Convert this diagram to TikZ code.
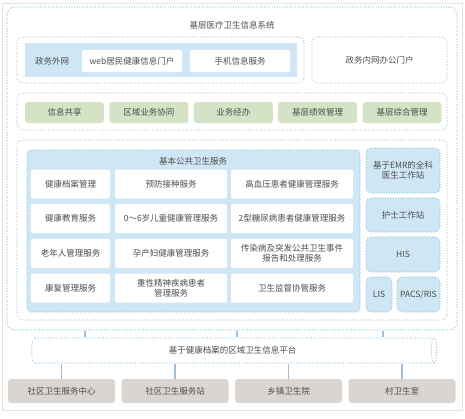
\documentclass[tikz,border=0pt]{standalone}
\usepackage{fontspec}
\setmainfont{Noto Sans CJK SC}
\usetikzlibrary{shapes.geometric}
\definecolor{txt}{HTML}{4D4D4D}
\definecolor{outerdot}{HTML}{74C4CB}
\definecolor{grpdot}{HTML}{A9BFCE}
\definecolor{paneblue}{HTML}{CFE6F5}
\definecolor{panedot}{HTML}{8DC0E3}
\definecolor{bizgreen}{HTML}{D4E3C5}
\definecolor{sitegray}{HTML}{DBD5D1}
\definecolor{linkblue}{HTML}{A3BCD6}
\definecolor{framegray}{HTML}{E3E3E3}

\begin{document}
\begin{tikzpicture}[x=1pt,y=-1pt,
    font=\fontsize{8.5}{10}\selectfont, text=txt,
    dotline/.style={dash pattern=on 0pt off 2.6pt,line cap=round,line width=1.2pt},
    outerbox/.style={draw=outerdot,dotline,rounded corners=8pt,inner sep=0pt},
    group/.style={draw=grpdot,dotline,rounded corners=5pt,inner sep=0pt},
    panel/.style={fill=paneblue,draw=panedot,dotline,rounded corners=4pt,inner sep=0pt},
    whitebox/.style={fill=white,rounded corners=2pt,inner sep=1pt,align=center},
    cell/.style={whitebox,minimum height=29pt},
    sysbox/.style={fill=paneblue,draw=panedot,dotline,rounded corners=5pt,inner sep=0pt,align=center},
    greenbox/.style={fill=bizgreen,rounded corners=3pt,minimum width=79pt,minimum height=21pt,inner sep=0pt},
    sitebox/.style={fill=sitegray,rounded corners=3pt,minimum width=107pt,minimum height=24pt,inner sep=0pt},
    link/.style={draw=linkblue,line width=1.6pt}]
  \useasboundingbox (0,0) rectangle (465,418);
  \draw[framegray] (2,3) rectangle (462,410);

  % system frame
  \node[outerbox,minimum width=450pt,minimum height=323pt] (outer) at (232,168.5) {};
  \node (title) at (232,25) {基层医疗卫生信息系统};

  % extranet / intranet
  \node[group,minimum width=287pt,minimum height=46pt] (extgroup) at (160.5,60) {};
  \node[fill=paneblue,minimum width=272pt,minimum height=34pt,inner sep=0pt] (extfill) at (161,60) {};
  \node (extnet) at (52,61) {政务外网};
  \node[whitebox,minimum width=100pt,minimum height=22pt] (web) at (132,61) {web居民健康信息门户};
  \node[whitebox,minimum width=100pt,minimum height=22pt] (mobile) at (240,61) {手机信息服务};
  \node[group,minimum width=135pt,minimum height=46pt] (intranet) at (379.5,60) {政务内网办公门户};

  % business row
  \node[group,minimum width=430pt,minimum height=37pt] (bizgroup) at (232,111.5) {};
  \foreach \txt [count=\i] in {信息共享,区域业务协同,业务经办,基层绩效管理,基层综合管理}
    \node[greenbox] (biz\i) at ({64.5+(\i-1)*84.4},112.5) {\txt};

  % public health services
  \node[group,minimum width=430pt,minimum height=180pt] (phsgroup) at (232,230) {};
  \node[panel,minimum width=333pt,minimum height=162pt] (phspanel) at (193.5,231) {};
  \node (phstitle) at (193,161) {基本公共卫生服务};
  \foreach \r/\a/\b/\c in {%
      1/健康档案管理/预防接种服务/高血压患者健康管理服务,
      2/健康教育服务/0～6岁儿童健康管理服务/2型糖尿病患者健康管理服务,
      3/老年人管理服务/孕产妇健康管理服务/{传染病及突发公共卫生事件\\报告和处理服务},
      4/康复管理服务/{重性精神疾病患者\\管理服务}/卫生监督协管服务}{
    \pgfmathsetmacro{\yy}{184+(\r-1)*34.7}
    \node[cell,minimum width=79pt] (cell\r a) at (70.5,\yy) {\a};
    \node[cell,minimum width=112pt] (cell\r b) at (171,\yy) {\b};
    \node[cell,minimum width=122pt] (cell\r c) at (292,\yy) {\c};
  }

  % clinical systems
  \node[sysbox,minimum width=74pt,minimum height=45pt] (emr) at (403,170.5) {基于EMR的全科\\医生工作站};
  \node[sysbox,minimum width=74pt,minimum height=34pt] (nurse) at (403,215) {护士工作站};
  \node[sysbox,minimum width=74pt,minimum height=35pt] (his) at (403,254.5) {HIS};
  \node[sysbox,minimum width=26pt,minimum height=35pt] (lis) at (379,294.5) {LIS};
  \node[sysbox,minimum width=43pt,minimum height=35pt] (pacs) at (418.5,294.5) {PACS/RIS};

  % platform
  \node[cylinder,draw=panedot,dotline,fill=white,aspect=0.7,inner sep=0pt,
        minimum height=405pt,minimum width=25pt] (platform) at (232.5,350.5) {基于健康档案的区域卫生信息平台};
  \foreach \xx [count=\i] in {85,237,383}
    \coordinate (tap\i) at (\xx,0);
  \foreach \i in {1,2,3}
    \draw[link] (outer.south -| tap\i) -- (platform.north -| tap\i);

  % sites
  \foreach \txt [count=\i] in {社区卫生服务中心,社区卫生服务站,乡镇卫生院,村卫生室}{
    \node[sitebox] (site\i) at ({61.5+(\i-1)*113.5},391) {\txt};
    \draw[link] (site\i.north) -- (site\i.north |- platform.south);
  }
\end{tikzpicture}
\end{document}
